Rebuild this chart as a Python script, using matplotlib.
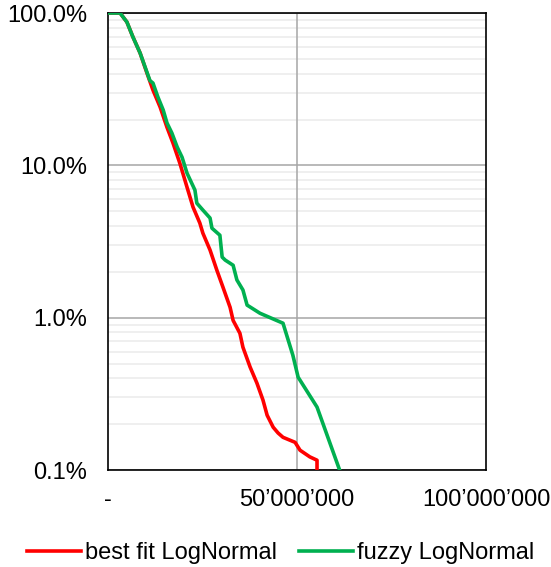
import matplotlib.pyplot as plt
from matplotlib.ticker import FixedLocator, FuncFormatter, LogLocator, NullFormatter

plt.rcParams['font.family'] = ['Liberation Sans', 'DejaVu Sans']

# exceedance curves: loss amount (millions) vs probability (%)
best_x = [0, 3.2, 5.0, 6.6, 8.5, 10.3, 11.9, 13.8, 15.6, 17.2, 19.0, 20.9, 22.5, 24.3,
          25.1, 27.0, 28.8, 30.4, 32.3, 33.1, 34.9, 35.7, 37.6, 39.4, 41.0, 42.1,
          43.7, 45.0, 46.3, 49.5, 50.8, 53.4, 55.3, 55.3]
best_p = [100, 100, 87.3, 69.6, 54.6, 40.4, 31.2, 24.1, 17.8, 14.0, 10.35, 7.2, 5.32, 4.18,
          3.59, 2.78, 2.05, 1.59, 1.17, 0.96, 0.79, 0.64, 0.474, 0.372, 0.288, 0.229,
          0.191, 0.175, 0.164, 0.152, 0.135, 0.122, 0.116, 0.09]

fuzzy_x = [0, 3.2, 5.0, 6.6, 8.5, 11.1, 11.9, 13.2, 14.6, 15.6, 16.9, 18.3, 19.6, 20.9,
           23.0, 23.5, 25.1, 27.0, 27.5, 29.6, 30.2, 31.0, 33.1, 34.1, 35.7, 36.8,
           40.2, 46.3, 48.9, 50.3, 55.3, 61.6]
fuzzy_p = [100, 100, 87.3, 69.6, 54.6, 36.0, 34.7, 28.1, 23.1, 19.0, 16.3, 13.2, 11.3, 8.9,
           6.88, 5.65, 5.09, 4.51, 3.87, 3.48, 2.50, 2.39, 2.21, 1.77, 1.52, 1.21,
           1.07, 0.92, 0.568, 0.407, 0.259, 0.095]

x_ticks = [0, 50, 100]
x_labels = ['-', '50\u2019000\u2019000', '100\u2019000\u2019000']
y_ticks = [0.1, 1, 10, 100]
y_labels = ['0.1%', '1.0%', '10.0%', '100.0%']

fig = plt.figure(figsize=(5.51, 5.67), dpi=100)
ax = fig.add_axes([0.196, 0.171, 0.686, 0.806])

ax.plot(best_x, best_p, color='#FF0000', lw=2.6, label='best fit LogNormal', zorder=3)
ax.plot(fuzzy_x, fuzzy_p, color='#00B050', lw=2.6, label='fuzzy LogNormal', zorder=4)

ax.set_yscale('log')
ax.set_ylim(0.1, 100)
ax.set_xlim(0, 100)

ax.yaxis.set_major_locator(FixedLocator(y_ticks))
ax.yaxis.set_major_formatter(FuncFormatter(lambda v, pos: y_labels[y_ticks.index(v)] if v in y_ticks else ''))
ax.yaxis.set_minor_locator(LogLocator(base=10, subs=range(2, 10)))
ax.yaxis.set_minor_formatter(NullFormatter())
ax.set_xticks(x_ticks)
ax.set_xticklabels(x_labels)

# light minor lines first, then the major grid on top
ax.grid(True, which='minor', axis='y', color='#eeeeee', lw=1.3, zorder=0.5)
ax.grid(True, which='major', axis='y', color='#a6a6a6', lw=1.1, zorder=1)
ax.axvline(50, color='#a6a6a6', lw=1.1, zorder=1.5)
ax.set_axisbelow(True)

ax.tick_params(which='both', length=0, labelsize=17, colors='black')
ax.tick_params(axis='y', pad=15)
ax.tick_params(axis='x', pad=14)

for s in ax.spines.values():
    s.set_color('black')
    s.set_linewidth(1.2)

fig.legend(loc='center', bbox_to_anchor=(0.509, 0.025), ncol=2, frameon=False,
           fontsize=17, handlelength=2.3, handletextpad=0.17, columnspacing=0.93,
           borderpad=0, borderaxespad=0)

fig.savefig('out.png', dpi=100)
